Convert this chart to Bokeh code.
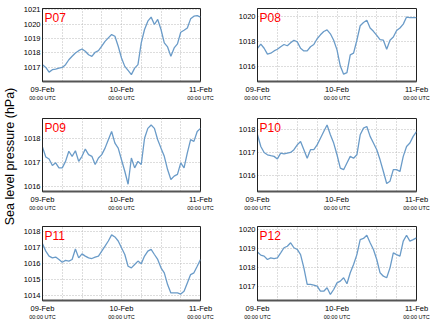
import math
from bokeh.plotting import figure
from bokeh.models import Range1d, FixedTicker, Label, LinearAxis
from bokeh.layouts import row, column
from bokeh.embed import file_html
from bokeh.resources import INLINE

# hours since 09-Feb 00:00 UTC
hours = list(range(49))
tick_hours = [0, 24, 48]
tick_dates = ["09-Feb", "10-Feb", "11-Feb"]
tick_times = ["00:00 UTC", "00:00 UTC", "00:00 UTC"]
grid_hours = [0, 6, 12, 18, 24, 30, 36, 42, 48]

stations = ["P07", "P08", "P09", "P10", "P11", "P12"]

p07 = [1017.19, 1017.00, 1016.67, 1016.84, 1016.88, 1016.95, 1017.00, 1017.19, 1017.53, 1017.77,
       1018.00, 1018.16, 1018.28, 1018.12, 1017.88, 1017.77, 1018.05, 1018.16, 1018.47, 1018.81,
       1019.05, 1019.28, 1019.16, 1018.47, 1017.65, 1017.07, 1016.79, 1016.50, 1016.95, 1017.19,
       1018.70, 1019.63, 1020.21, 1020.49, 1019.98, 1020.33, 1019.63, 1018.70, 1018.42, 1017.77,
       1018.35, 1018.63, 1019.44, 1019.58, 1019.74, 1020.37, 1020.56, 1020.60, 1020.49]
p08 = [1017.44, 1017.77, 1017.44, 1016.97, 1017.05, 1017.23, 1017.36, 1017.56, 1017.74, 1017.64,
       1017.87, 1018.08, 1017.95, 1017.44, 1017.23, 1017.23, 1017.56, 1017.74, 1018.20, 1018.51,
       1018.77, 1018.90, 1018.59, 1018.08, 1017.31, 1016.03, 1015.38, 1015.51, 1016.92, 1017.05,
       1018.08, 1019.23, 1019.49, 1019.67, 1019.05, 1018.79, 1018.46, 1018.13, 1018.08, 1017.36,
       1018.08, 1018.33, 1018.85, 1019.05, 1019.36, 1019.92, 1019.87, 1019.87, 1019.87]
p09 = [1017.64, 1017.23, 1017.15, 1016.88, 1016.99, 1016.78, 1016.78, 1017.05, 1017.47, 1017.26,
       1017.49, 1017.05, 1017.26, 1017.56, 1017.33, 1017.26, 1016.92, 1017.19, 1017.33, 1017.60,
       1017.95, 1018.29, 1017.81, 1017.60, 1017.12, 1016.64, 1016.10, 1017.19, 1016.78, 1017.05,
       1016.92, 1018.01, 1018.42, 1018.56, 1018.42, 1017.95, 1017.60, 1017.26, 1016.71, 1016.30,
       1016.44, 1016.51, 1016.99, 1016.78, 1017.40, 1017.95, 1017.88, 1018.29, 1018.42]
p10 = [1017.77, 1017.26, 1017.00, 1016.90, 1016.86, 1016.83, 1016.72, 1016.97, 1016.94, 1016.97,
       1017.00, 1017.12, 1017.33, 1017.48, 1017.12, 1016.75, 1017.12, 1017.12, 1017.33, 1017.62,
       1017.91, 1018.20, 1017.77, 1017.41, 1016.90, 1016.32, 1016.25, 1016.54, 1016.83, 1016.75,
       1016.90, 1017.77, 1018.06, 1018.13, 1017.70, 1017.41, 1017.12, 1016.68, 1016.17, 1015.65,
       1015.75, 1016.25, 1016.25, 1016.17, 1016.83, 1017.26, 1017.41, 1017.70, 1017.91]
p11 = [1017.23, 1016.77, 1016.46, 1016.35, 1016.40, 1016.25, 1016.08, 1016.19, 1016.15, 1016.25,
       1016.90, 1016.35, 1016.60, 1016.46, 1016.35, 1016.31, 1016.40, 1016.46, 1016.77, 1017.08,
       1017.40, 1017.78, 1017.65, 1017.40, 1016.98, 1016.56, 1015.83, 1015.73, 1015.94, 1016.15,
       1015.98, 1016.46, 1016.77, 1016.88, 1016.56, 1016.25, 1015.73, 1015.42, 1014.69, 1014.17,
       1014.17, 1014.17, 1014.10, 1014.27, 1014.79, 1015.31, 1015.42, 1015.83, 1016.25]
p12 = [1018.82, 1018.65, 1018.60, 1018.42, 1018.51, 1018.47, 1018.51, 1018.77, 1019.04, 1019.12,
       1019.30, 1019.04, 1018.95, 1018.68, 1017.98, 1017.11, 1017.11, 1017.07, 1017.02, 1016.75,
       1016.75, 1016.93, 1016.58, 1016.84, 1017.19, 1017.28, 1017.46, 1017.14, 1017.72, 1018.16,
       1018.68, 1019.47, 1019.53, 1019.70, 1019.30, 1018.95, 1018.42, 1017.72, 1017.54, 1017.46,
       1017.98, 1018.77, 1018.68, 1018.60, 1019.39, 1019.70, 1019.39, 1019.47, 1019.56]
series = [p07, p08, p09, p10, p11, p12]

y_limits = [(1016.02, 1021.09), (1014.8, 1020.6), (1015.8, 1018.83),
            (1015.3, 1018.48), (1013.7, 1018.3), (1016.26, 1020.16)]
y_ticks = [[1017, 1018, 1019, 1020, 1021], [1016, 1018, 1020], [1016, 1017, 1018],
           [1016, 1017, 1018], [1014, 1015, 1016, 1017, 1018], [1017, 1018, 1019, 1020]]

FONT = "Liberation Sans"


def make_panel(i):
    col = i % 2
    r = i // 2
    width = 197 if col == 0 else 217
    height = 110 if r < 2 else 107
    p = figure(width=width, height=height, output_backend="svg", toolbar_location=None,
               x_range=Range1d(0, 48), y_range=Range1d(*y_limits[i]),
               min_border_left=22 if col == 0 else 40,
               min_border_right=17 if col == 0 else 18,
               min_border_top=8 if r < 2 else 6,
               min_border_bottom=29 if r < 2 else 27)
    p.background_fill_color = "white"
    p.border_fill_color = "white"
    p.outline_line_color = "#222222"
    p.outline_line_width = 1

    p.line(hours, series[i], line_color="#6a9bc8", line_width=1.3)

    xa = p.xaxis[0]
    xa.ticker = FixedTicker(ticks=tick_hours)
    xa.major_label_overrides = {h: t for h, t in zip(tick_hours, tick_dates)}
    xa.major_label_text_font = FONT
    xa.major_label_text_font_size = "7.5px"
    xa.major_label_text_color = "black"
    xa.major_label_standoff = 3
    xa.major_tick_out = 0
    xa.major_tick_in = 0
    xa.minor_tick_out = 0
    xa.minor_tick_in = 0
    xa.axis_line_color = "#555555"
    xa.axis_line_width = 2

    xa2 = LinearAxis(ticker=FixedTicker(ticks=tick_hours),
                     major_label_overrides={h: t for h, t in zip(tick_hours, tick_times)})
    xa2.major_label_text_font = FONT
    xa2.major_label_text_font_size = "5.5px"
    xa2.major_label_text_color = "black"
    xa2.major_label_standoff = -2
    xa2.major_tick_out = 0
    xa2.major_tick_in = 0
    xa2.minor_tick_out = 0
    xa2.minor_tick_in = 0
    xa2.axis_line_color = None
    p.add_layout(xa2, "below")

    ya = p.yaxis[0]
    ya.ticker = FixedTicker(ticks=y_ticks[i])
    ya.major_label_text_font = FONT
    ya.major_label_text_font_size = "7.5px"
    ya.major_label_text_color = "black"
    ya.major_label_standoff = 2
    ya.major_tick_out = 0
    ya.major_tick_in = 0
    ya.minor_tick_out = 0
    ya.minor_tick_in = 0
    ya.axis_line_color = "#222222"

    p.xgrid.ticker = FixedTicker(ticks=grid_hours)
    p.xgrid.grid_line_color = "#bbbbbb"
    p.xgrid.grid_line_dash = "1 2"
    p.ygrid.grid_line_color = "#bbbbbb"
    p.ygrid.grid_line_dash = "1 2"

    lab = Label(x=0, y=y_limits[i][1], text=stations[i], x_offset=2, y_offset=-2,
                text_baseline="top", text_align="left", text_color="#ff0000",
                text_font=FONT, text_font_size="12px")
    p.add_layout(lab)
    return p


panels = [make_panel(i) for i in range(6)]

strip = figure(width=20, height=327, output_backend="svg", toolbar_location=None,
               x_range=Range1d(0, 1), y_range=Range1d(0, 1),
               x_axis_location=None, y_axis_location=None, min_border=0)
strip.outline_line_color = None
strip.grid.visible = False
strip.add_layout(Label(x=0.45, y=(327 - 156) / 327, text="Sea level pressure (hPa)",
                       angle=math.pi / 2, text_align="center", text_baseline="middle",
                       text_font=FONT, text_font_size="12.5px", text_color="black"))

grid = column(row(panels[0], panels[1]), row(panels[2], panels[3]), row(panels[4], panels[5]))
layout = row(strip, grid)

open("out.html", "w").write(file_html(layout, INLINE))
